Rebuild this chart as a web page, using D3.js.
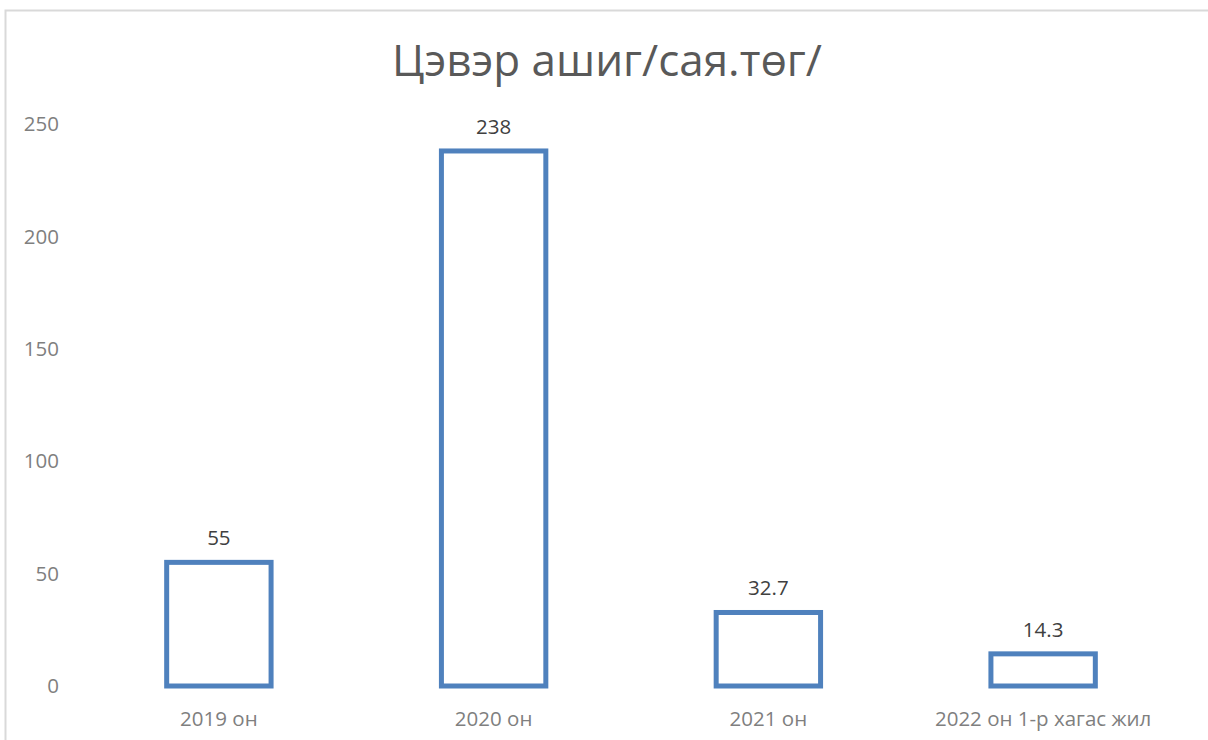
<!DOCTYPE html>
<html>
<head>
<meta charset="utf-8">
<script src="https://cdn.jsdelivr.net/npm/d3@7"></script>
<style>
  body { margin: 0; background: #fff; }
  svg text { font-family: "Open Sans", "Noto Sans", sans-serif; }
</style>
</head>
<body>
<div id="chart"></div>
<script>
// Цэвэр ашиг, сая төгрөг
const categories = ['2019 он', '2020 он', '2021 он', '2022 он 1-р хагас жил'];
const values = [55, 238, 32.7, 14.3];
const yTicks = [0, 50, 100, 150, 200, 250];
const title = 'Цэвэр ашиг/сая.төг/';

const W = 1208, H = 740;
const svg = d3.select('#chart').append('svg')
  .attr('width', W).attr('height', H);

// outer chart frame (cut off on the right and bottom)
svg.append('rect')
  .attr('x', 5.5).attr('y', 10.5)
  .attr('width', W + 20).attr('height', H + 20)
  .attr('fill', 'none').attr('stroke', '#d9d9d9').attr('stroke-width', 2);

const x = d3.scaleBand()
  .domain(categories)
  .range([81.5, 1180.5])
  .paddingInner(0.62).paddingOuter(0.31);

const y = d3.scaleLinear().domain([0, 250]).range([686, 124]);

svg.append('text')
  .attr('x', 607).attr('y', 76)
  .attr('text-anchor', 'middle')
  .attr('font-size', '44px').attr('fill', '#595959')
  .text(title);

// y tick labels only, no axis line or grid
svg.append('g').selectAll('text')
  .data(yTicks).join('text')
  .attr('x', 59).attr('y', d => y(d))
  .attr('dy', '0.35em')
  .attr('text-anchor', 'end')
  .attr('font-size', '20.5px').attr('fill', '#7f7f7f')
  .text(d => d);

svg.append('g').selectAll('text')
  .data(categories).join('text')
  .attr('x', d => x(d) + x.bandwidth() / 2).attr('y', 726)
  .attr('text-anchor', 'middle')
  .attr('font-size', '20.5px').attr('fill', '#7f7f7f')
  .text(d => d);

const bars = categories.map((c, i) => ({ c, v: values[i] }));

svg.append('g').selectAll('rect')
  .data(bars).join('rect')
  .attr('x', d => x(d.c)).attr('width', x.bandwidth())
  .attr('y', d => y(d.v)).attr('height', d => y(0) - y(d.v))
  .attr('fill', '#fff').attr('stroke', '#4f81bd').attr('stroke-width', 5);

svg.append('g').selectAll('text')
  .data(bars).join('text')
  .attr('x', d => x(d.c) + x.bandwidth() / 2).attr('y', d => y(d.v) - 17)
  .attr('text-anchor', 'middle')
  .attr('font-size', '20.5px').attr('fill', '#404040')
  .text(d => d.v);
</script>
</body>
</html>
